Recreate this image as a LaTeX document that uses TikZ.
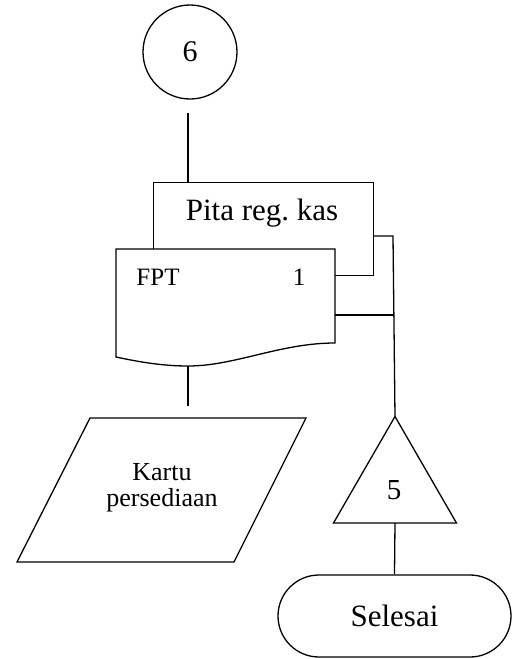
\documentclass[tikz,border=0pt]{standalone}
\usepackage{fontspec}
\setmainfont{Liberation Serif}
\usetikzlibrary{shapes.geometric,shapes.misc}
\begin{document}
\begin{tikzpicture}[x=1pt,y=-1pt,
  every path/.style={line width=1.3pt},
  ln/.style={draw=black,line width=1.3pt},
  txt/.style={inner sep=0pt,align=center}]
\useasboundingbox (0,0) rectangle (518,659);
% connector 6
\node[circle,ln,minimum size=94pt,inner sep=0pt,font=\fontsize{30}{32}\selectfont] (c6) at (190,52) {6};
\coordinate (c6end) at (188,113);
% Pita reg. kas document (behind)
\node[rectangle,ln,minimum width=220pt,minimum height=93pt,anchor=north west,inner sep=0pt] (pita) at (153,182) {};
\node[txt,font=\fontsize{31}{33}\selectfont] (pitatxt) at (262,213) {Pita reg.\ kas};
% FPT document (front)
\coordinate (fptnw) at (116,249);
\coordinate (fptne) at (335,249);
\coordinate (fptse) at (335,343);
\coordinate (fptsw) at (116,357);
\coordinate (fptbot) at (188,366);
\draw[fill=white] (fptsw) -- (fptnw) -- (fptne) -- (fptse)
  .. controls (280,343) and (235,366) .. (fptbot)
  .. controls (160,366) and (135,361) .. (fptsw) -- cycle;
\node[txt,font=\fontsize{25}{27}\selectfont] (fpt) at (158,277) {FPT};
\node[txt,font=\fontsize{25}{27}\selectfont] (one) at (299,277) {1};
% Kartu persediaan (parallelogram)
\coordinate (ka) at (90,418);
\coordinate (kb) at (306,418);
\coordinate (kc) at (234,562);
\coordinate (kd) at (17,562);
\draw (ka) -- (kb) -- (kc) -- (kd) -- cycle;
\node[txt,font=\fontsize{26}{26}\selectfont] (kartu) at (162,488) {Kartu\\persediaan};
% off-page connector triangle
\node[regular polygon,regular polygon sides=3,ln,minimum size=142pt,inner sep=0pt,outer sep=0pt] (tri) at (395,487.5) {};
\node[txt,font=\fontsize{29}{31}\selectfont] (five) at (394,490) {5};
% terminator
\node[rounded rectangle,ln,minimum width=233pt,minimum height=82pt,inner sep=0pt,font=\fontsize{31}{33}\selectfont] (end) at (394.5,616) {Selesai};
% connectors
\draw (c6end) -- (c6end |- pita.north);
\coordinate (pitaout) at (373,236);
\coordinate (junA) at (393,236);
\coordinate (fptout) at (335,315);
\coordinate (junB) at (393,315);
\draw (pitaout) -- (junA) -- (tri.north);
\draw (fptout) -- (junB);
\coordinate (fptend) at (188,406);
\draw (fptbot) -- (fptend);
\draw (tri.south |- tri.corner 2) -- (end.north);
\end{tikzpicture}
\end{document}
